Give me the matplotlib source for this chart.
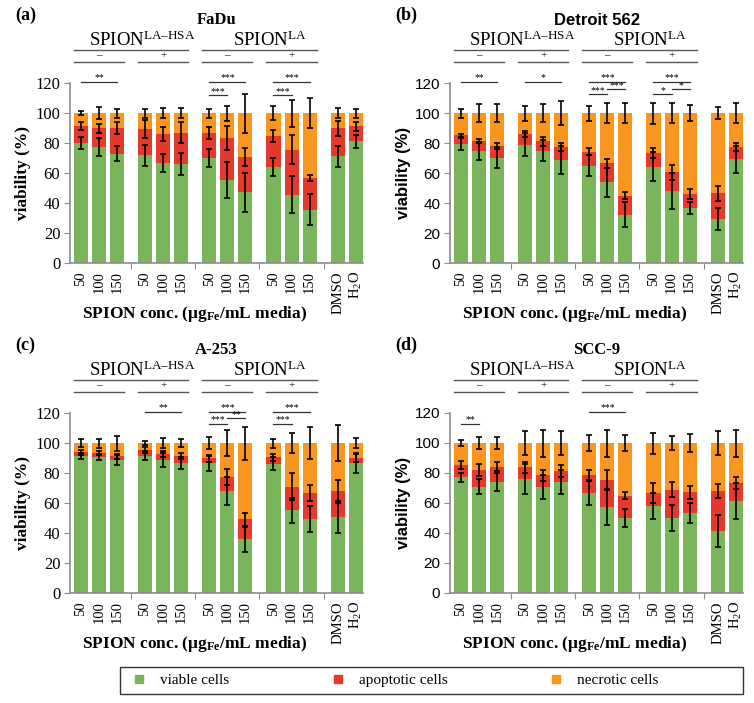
import numpy as np
import matplotlib
matplotlib.use('Agg')
import matplotlib.pyplot as plt
from matplotlib.lines import Line2D
from matplotlib.patches import Rectangle

plt.rcParams['font.family'] = 'Liberation Serif'
plt.rcParams['mathtext.fontset'] = 'custom'
plt.rcParams['mathtext.rm'] = 'Liberation Serif'
plt.rcParams['mathtext.bf'] = 'Liberation Serif:bold'
plt.rcParams['mathtext.it'] = 'Liberation Serif:italic'

GREEN = '#7ab55c'
RED = '#e5392b'
ORANGE = '#f8961f'
GRAY = '#8c8c8c'

conc_labels = ['50', '100', '150'] * 4 + ['DMSO', 'H$_2$O']
group_signs = ['–', '+', '–', '+']
particle_labels = ['SPION$^{\\mathrm{LA–HSA}}$', 'SPION$^{\\mathrm{LA}}$']
legend_labels = ['viable cells', 'apoptotic cells', 'necrotic cells']

# FaDu
fadu_viable = [80.0, 77.3, 73.0, 71.8, 66.4, 66.0, 70.0, 55.3, 47.1, 63.8, 45.6, 35.6, 71.3, 81.1]
fadu_apoptotic = [11.3, 12.5, 16.8, 17.5, 19.6, 20.7, 16.7, 28.0, 23.8, 20.6, 30.0, 21.3, 18.7, 10.2]
fadu_necrotic = [8.7, 10.2, 10.2, 10.7, 14.0, 13.3, 13.3, 16.7, 29.1, 15.6, 24.4, 43.1, 10.0, 8.7]
fadu_err_v = [4, 6, 5, 7, 6, 7.5, 6, 12, 13, 6, 12.5, 10.5, 7, 4.5]
fadu_err_a = [2.5, 3, 4, 6, 4.5, 7, 4, 8, 6, 4, 9.5, 2, 5, 3]
fadu_err_n = [1.5, 4, 3, 3, 3.5, 3.5, 3, 5, 13, 4.5, 9, 10, 3.3, 3]
fadu_sig = [(0, 2, 121, '**'), (6, 8, 121, '***'), (6, 7, 112, '***'),
            (9, 11, 121, '***'), (9, 10, 112, '***')]

# Detroit 562
det_viable = [79.3, 74.7, 70.2, 78.9, 74.7, 68.7, 64.9, 53.8, 32.2, 64.2, 47.8, 36.7, 29.5, 69.1]
det_apoptotic = [6.0, 6.6, 7.6, 6.9, 6.6, 8.6, 9.3, 12.6, 12.7, 8.9, 12.6, 9.3, 17.1, 8.2]
det_necrotic = [14.7, 18.7, 22.2, 14.2, 18.7, 22.7, 25.8, 33.6, 55.1, 26.9, 39.6, 54.0, 53.4, 22.7]
det_err_v = [4, 6, 7, 7.5, 7, 9.5, 7, 9.5, 8.5, 9.5, 12, 3.7, 7.5, 9]
det_err_a = [1, 1.5, 2, 2, 3, 2.5, 2.4, 3, 2.3, 3.3, 5, 3.3, 5, 2.5]
det_err_n = [3, 6, 6, 5, 6, 8, 5, 6.7, 6.7, 7, 6.7, 5.5, 4, 6.5]
det_sig = [(0, 2, 121, '**'), (3, 5, 121, '*'), (6, 8, 121, '***'), (6, 7, 112.5, '***'),
           (7, 8, 116, '***'), (9, 11, 121, '***'), (9, 10, 112.5, '*'), (10, 11, 116, '*')]

# A-253
a253_viable = [91.6, 90.7, 88.7, 91.6, 88.7, 86.7, 86.6, 67.9, 35.7, 86.2, 55.1, 49.5, 50.7, 86.7]
a253_apoptotic = [2.2, 2.4, 2.4, 3.5, 3.7, 4.6, 3.1, 9.6, 13.4, 4.2, 15.9, 17.2, 17.1, 3.3]
a253_necrotic = [6.2, 6.9, 8.9, 4.9, 7.6, 8.7, 10.3, 22.5, 50.9, 9.6, 29.0, 33.3, 32.2, 10.0]
a253_err_v = [2, 2, 3.5, 3, 4.5, 4, 5, 9.5, 8.4, 4.5, 8.2, 8.5, 10.5, 6.5]
a253_err_a = [1.5, 1.3, 1.5, 2, 2, 2.2, 2.5, 5.5, 4.5, 2.2, 8.7, 5.4, 7.5, 2.5]
a253_err_n = [2.5, 3, 5, 1.5, 3.3, 2.5, 4, 8.5, 11, 3, 6.5, 10.5, 12, 3.5]
a253_sig = [(3, 5, 121, '**'), (6, 8, 121, '***'), (6, 7, 113, '***'), (7, 8, 116.7, '**'),
            (9, 11, 121, '***'), (9, 10, 113, '***')]

# SCC-9
scc_viable = [77.3, 70.9, 73.8, 76.2, 70.4, 74.2, 66.4, 57.1, 49.9, 58.2, 49.9, 53.4, 41.5, 61.3]
scc_apoptotic = [8.0, 10.9, 10.4, 7.6, 8.0, 7.4, 12.3, 18.5, 15.0, 8.5, 18.8, 13.7, 26.5, 12.3]
scc_necrotic = [14.7, 18.2, 15.8, 16.2, 21.6, 18.4, 21.3, 24.4, 35.1, 33.3, 31.3, 32.9, 32.0, 26.4]
scc_err_v = [3, 5, 6, 10, 8, 8, 8, 11.5, 6, 8.6, 8.6, 6.8, 10.5, 12]
scc_err_a = [2.7, 4, 3, 3.5, 3.8, 4, 3.3, 6.5, 2.5, 6.5, 5, 4.5, 4.5, 4]
scc_err_n = [2.2, 3.8, 4, 7.8, 9, 8, 5.2, 9, 5.2, 7, 4.4, 6, 8, 9]
scc_sig = [(0, 1, 113, '**'), (6, 8, 121, '***')]

panels = [
    ('(a)', 'FaDu', 'Liberation Serif', 'Liberation Serif', 70, 83,
     fadu_viable, fadu_apoptotic, fadu_necrotic, fadu_err_v, fadu_err_a, fadu_err_n, fadu_sig),
    ('(b)', 'Detroit 562', 'Liberation Sans', 'Liberation Sans', 450, 83,
     det_viable, det_apoptotic, det_necrotic, det_err_v, det_err_a, det_err_n, det_sig),
    ('(c)', 'A-253', 'Liberation Serif', 'Liberation Serif', 70, 413,
     a253_viable, a253_apoptotic, a253_necrotic, a253_err_v, a253_err_a, a253_err_n, a253_sig),
    ('(d)', 'SCC-9', 'Liberation Serif', 'Liberation Sans', 450, 413,
     scc_viable, scc_apoptotic, scc_necrotic, scc_err_v, scc_err_a, scc_err_n, scc_sig),
]

W, H = 754, 703
AX_W, AX_H = 293, 180
xpos = np.array([0, 1, 2, 3.55, 4.55, 5.55, 7.1, 8.1, 9.1, 10.65, 11.65, 12.65, 14.2, 15.2])
bw = 0.78

fig = plt.figure(figsize=(W / 100, H / 100), dpi=100)

for (tag, title, title_font, tick_font, left, top, viable, apop, necr,
     err_v, err_a, err_n, sig) in panels:
    ax = fig.add_axes([left / W, 1 - (top + AX_H) / H, AX_W / W, AX_H / H])
    viable = np.array(viable)
    apop = np.array(apop)
    necr = np.array(necr)

    ax.bar(xpos, viable, bw, color=GREEN)
    ax.bar(xpos, apop, bw, bottom=viable, color=RED)
    ax.bar(xpos, necr, bw, bottom=viable + apop, color=ORANGE)
    ekw = dict(fmt='none', ecolor='black', elinewidth=1.2, capsize=2.5, capthick=1.2, zorder=3)
    ax.errorbar(xpos, viable, yerr=err_v, **ekw)
    ax.errorbar(xpos, viable + apop, yerr=err_a, **ekw)
    ax.errorbar(xpos, viable + apop + necr, yerr=err_n, **ekw)

    ax.set_xlim(-0.6, 15.6)
    ax.set_ylim(0, 120)
    ax.set_yticks(range(0, 121, 20))
    ax.spines[['top', 'right']].set_visible(False)
    for s in ['left', 'bottom']:
        ax.spines[s].set_color(GRAY)
        ax.spines[s].set_linewidth(1.2)
    serif = tick_font.endswith('Serif')
    ax.tick_params(axis='y', length=4, color=GRAY, labelsize=12 if serif else 11,
                   labelfontfamily=tick_font, pad=3)
    ax.set_xticks([2.775, 6.325, 9.875, 13.425])
    ax.set_xticklabels([])
    ax.tick_params(axis='x', which='major', length=4, color=GRAY)
    ax.set_xticks(xpos, conc_labels, minor=True)
    ax.tick_params(axis='x', which='minor', length=0, pad=6, labelsize=10.5, labelrotation=90)

    ax.set_ylabel('viability (%)', fontweight='bold', fontfamily=tick_font,
                  fontsize=12.5 if serif else 12)
    ax.yaxis.set_label_coords(-0.133, 0.5)
    ax.text(6.3, -34, 'SPION conc. (μg$_{\\mathbf{Fe}}$/mL media)', ha='center', va='center',
            fontsize=12.5, fontweight='bold')

    # group brackets
    for g in range(4):
        x0 = xpos[3 * g] - 0.39
        x1 = xpos[3 * g + 2] + 0.39
        ax.plot([x0, x1], [134, 134], color='#555555', lw=1.0, clip_on=False)
        ax.text((x0 + x1) / 2, 135, group_signs[g], ha='center', va='bottom', fontsize=8)
    for k in range(2):
        x0 = xpos[6 * k] - 0.39
        x1 = xpos[6 * k + 5] + 0.39
        ax.plot([x0, x1], [142, 142], color='#555555', lw=1.0, clip_on=False)
        ax.text((x0 + x1) / 2 + 0.6, 144.5, particle_labels[k], ha='center', va='baseline',
                fontsize=13.5)

    for i, j, y, stars in sig:
        ax.plot([xpos[i], xpos[j]], [y, y], color='#333333', lw=0.9, clip_on=False)
        ax.text((xpos[i] + xpos[j]) / 2, y - 0.5, stars, ha='center', va='bottom', fontsize=7)

    ax.text(0.5, 162, title, transform=ax.get_yaxis_transform(),
            ha='center', va='center', fontsize=12, fontweight='bold', fontfamily=title_font)
    fig.text((left - 55) / W, 1 - (top - 68) / H, tag, ha='left', va='center',
             fontsize=13, fontweight='bold')

# legend in a box along the bottom
fig.add_artist(Rectangle((120 / W, 1 - 694 / H), 623 / W, 27 / H, transform=fig.transFigure,
                         fill=False, edgecolor='#333333', linewidth=1.0))
handles = [Line2D([], [], marker='s', color=c, linestyle='none', markersize=6)
           for c in (GREEN, RED, ORANGE)]
fig.legend(handles, legend_labels, loc='center left',
           bbox_to_anchor=(131.5 / W, 1 - 680.5 / H), ncol=3, frameon=False,
           borderpad=0, borderaxespad=0, handlelength=1.0, handletextpad=0.88,
           columnspacing=6.6, fontsize=11)

fig.savefig('out.png', dpi=100)
